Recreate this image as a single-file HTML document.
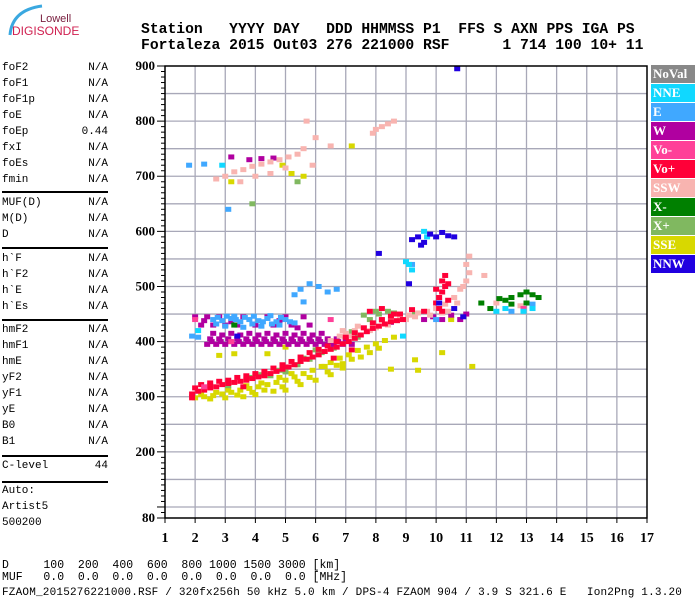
<!DOCTYPE html>
<html><head><meta charset="utf-8">
<style>
body{margin:0;background:#fff;}
#wrap{position:relative;width:700px;height:600px;overflow:hidden;background:#fff;font-family:"Liberation Mono",monospace;}
.t{position:absolute;white-space:pre;font-size:11px;color:#000;line-height:12px;}
.hd{position:absolute;white-space:pre;font-family:"Liberation Mono",monospace;font-weight:bold;font-size:14.7px;color:#000;line-height:15px;}
.hr{position:absolute;left:2px;width:106px;height:0;border-top:2px solid #000;}
.lg{position:absolute;left:651px;width:44px;height:18px;color:#fff;font-family:"Liberation Serif",serif;font-weight:bold;font-size:13px;line-height:18px;padding-left:2px;box-sizing:border-box;}
</style></head><body>
<div id="wrap">
<svg style="position:absolute;left:0;top:0" width="140" height="45">
<path d="M10 35 Q12 10 42 6" stroke="#3aa8e0" stroke-width="3" fill="none"/>
<text x="40" y="22" font-family="Liberation Sans,sans-serif" font-size="11" fill="#7a2040">Lowell</text>
<text x="12" y="35" font-family="Liberation Sans,sans-serif" font-size="12" fill="#d02050">DIGISONDE</text>
</svg>
<div class="hd" style="left:141px;top:23px">Station   YYYY DAY   DDD HHMMSS P1  FFS S AXN PPS IGA PS</div>
<div class="hd" style="left:141px;top:39px">Fortaleza 2015 Out03 276 221000 RSF      1 714 100 10+ 11</div>

<div id="panel"></div>

<div class="t" style="left:2px;top:560px;font-size:11.5px">D     100  200  400  600  800 1000 1500 3000 [km]</div>
<div class="t" style="left:2px;top:572px;font-size:11.5px">MUF   0.0  0.0  0.0  0.0  0.0  0.0  0.0  0.0 [MHz]</div>
<div class="t" style="left:2px;top:587px;letter-spacing:0.2px">FZAOM_2015276221000.RSF / 320fx256h 50 kHz 5.0 km / DPS-4 FZAOM 904 / 3.9 S 321.6 E   Ion2Png 1.3.20</div>

<div class="lg" style="top:65px;background:#888888">NoVal</div>
<div class="lg" style="top:84px;background:#10d8ff">NNE</div>
<div class="lg" style="top:103px;background:#40a8ff">E</div>
<div class="lg" style="top:122px;background:#b000a0">W</div>
<div class="lg" style="top:141px;background:#ff4098">Vo-</div>
<div class="lg" style="top:160px;background:#ff0038">Vo+</div>
<div class="lg" style="top:179px;background:#f8b4b0">SSW</div>
<div class="lg" style="top:198px;background:#008000">X-</div>
<div class="lg" style="top:217px;background:#80b860">X+</div>
<div class="lg" style="top:236px;background:#d8d800">SSE</div>
<div class="lg" style="top:255px;background:#2000e0">NNW</div>

<svg id="chart" style="position:absolute;left:0;top:0" width="700" height="600"></svg>
</div>
<script>
const xTicks=[1,2,3,4,5,6,7,8,9,10,11,12,13,14,15,16,17];
const yTickLabels=[900,800,700,600,500,400,300,200,80];
const seriesNames=["NNE","E","W","Vo-","Vo+","SSW","X-","X+","SSE","NNW"];
const seriesColors=["#10d8ff","#40a8ff","#b000a0","#ff4098","#ff0038","#f8b4b0","#008000","#80b860","#d8d800","#2000e0"];
const ptsSSE=[[2.0,298],[2.3,300],[2.6,302],[2.9,305],[3.2,308],[3.5,312],[3.8,315],[4.1,318],[4.4,322],[4.7,326],[5.0,330],[5.3,336],[5.6,342],[5.9,348],[6.2,355],[6.5,362],[6.8,370],[7.1,376],[7.4,384],[7.7,390],[8.0,396],[8.3,402],[8.6,408],[3.0,298],[4.0,304],[5.0,312],[6.0,330],[6.5,340],[2.8,375],[3.3,378],[4.4,378],[5.0,390],[8.5,350],[9.4,348],[9.3,367],[10.2,380],[4.9,720],[5.2,705],[5.6,700],[3.2,690],[7.2,755],[10.5,440],[11.2,355],[6.9,352],[6.3,355],[2.5,296],[3.6,300],[4.6,310],[5.5,322],
[2.2,304],[2.7,308],[3.4,303],[3.9,308],[4.3,312],[4.9,318],[5.4,328],[5.8,335],[6.4,345],[6.9,360],[7.2,368],[7.5,372],[3.1,312],[3.7,320],[4.2,325],[4.8,335],[5.2,342],[6.7,357],[7.8,380],[8.1,388]];
const ptsXplus=[[2.5,320],[3.1,320],[3.8,335],[4.5,338],[5.0,345],[5.4,358],[5.8,368],[6.2,380],[6.6,388],[7.0,402],[7.4,408],[7.8,440],[8.1,450],[8.4,455],[8.8,445],[9.3,450],[6.0,385],[3.9,650],[5.4,690],[1.9,300],[7.6,448],[8.0,455],[4.2,340],[4.8,348],[5.6,370],[6.4,395],[7.2,418],[8.6,452]];
const ptsW=[[2.4,395],[2.7,395],[3.0,395],[3.3,395],[3.6,395],[3.9,395],[4.2,395],[4.5,395],[4.8,395],[5.1,395],[5.4,395],[5.7,395],[6.0,395],[6.3,395],[6.6,395],[6.9,395],[7.2,395],
[2.5,405],[2.8,405],[3.1,405],[3.4,405],[3.7,405],[4.0,405],[4.3,405],[4.6,405],[4.9,405],[5.2,405],[5.5,405],[5.8,405],[6.1,405],[6.4,405],[6.7,405],[7.0,405],
[2.55,400],[2.85,400],[3.15,400],[3.45,400],[3.75,400],[4.05,400],[4.35,400],[4.65,400],[4.95,400],[5.25,400],[5.55,400],[5.85,400],[6.15,400],[6.45,400],[6.75,400],
[2.6,415],[3.2,415],[3.8,415],[4.4,415],[5.0,415],[5.6,415],[6.2,415],[2.9,412],[3.5,412],[4.1,412],[4.7,412],[5.3,412],[5.9,412],
[2.2,430],[2.6,430],[3.0,430],[3.4,430],[4.0,430],[4.6,430],[5.2,430],[5.8,430],
[2.0,445],[2.4,445],[2.8,445],[3.6,445],[4.4,445],[5.0,445],[5.6,445],[2.3,438],[3.2,436],[4.8,438],[5.4,425],
[9.6,440],[9.9,445],[10.2,440],[10.5,448],[10.8,440],[11.0,450],[8.5,435],[3.8,730],[4.2,732],[3.2,735],[4.6,733]];
const ptsE=[[2.6,440],[2.9,438],[3.2,442],[3.5,436],[3.8,440],[4.1,438],[4.4,442],[4.7,436],[5.0,440],[5.3,434],[3.0,428],[3.6,426],[4.2,428],[4.8,430],[1.9,410],[2.1,408],[5.3,485],[5.5,495],[5.8,505],[6.1,500],[6.4,490],[6.7,495],[3.1,640],[1.8,720],[2.3,722],[10.0,440],[9.2,540],[12.5,455],[13.2,468],[5.6,472],[3.3,446],[4.5,447],
[2.75,444],[3.05,446],[3.35,440],[3.65,444],[3.95,446],[4.25,436],[4.55,432],[4.85,444],[5.15,436],[2.7,432],[3.9,432]];
const ptsVoPlus=[[1.9,305],[2.1,310],[2.3,312],[2.5,316],[2.7,318],[2.9,322],[3.1,324],[3.3,326],[3.5,328],[3.7,330],[3.9,333],[4.1,336],[4.3,338],[4.5,342],[4.7,346],[4.9,350],[5.1,354],[5.3,358],[5.5,364],[5.7,368],[5.9,372],[6.1,376],[6.3,382],[6.5,386],[6.7,390],[6.9,396],[7.1,400],[7.3,406],[7.5,412],[7.7,418],[7.9,424],[8.1,428],[8.3,432],[8.5,436],[8.7,438],[8.9,440],
[2.2,322],[2.8,328],[3.4,335],[4.0,342],[4.6,352],[5.2,364],[5.8,380],[6.4,392],[7.0,408],[7.6,425],[8.2,440],[8.8,450],[9.6,455],
[2.0,316],[2.5,325],[3.1,330],[3.7,338],[4.3,346],[4.9,358],[5.5,372],[6.1,386],[6.7,400],[7.3,416],[7.9,434],[8.5,446],
[7.8,455],[8.2,460],[8.6,450],[9.2,458],
[10.0,470],[10.1,480],[10.2,490],[10.3,500],[10.2,510],[10.3,520],[10.1,460],[10.4,475],[10.2,455],[10.0,495],[10.4,505],
[6.6,370],[7.2,385],[3.6,318],[1.9,298]];
const ptsVoMinus=[[2.0,440],[3.2,400],[12.9,460],[6.5,440],[2.3,318]];
const ptsSSW=[[3.0,700],[3.3,708],[3.6,712],[3.9,718],[4.2,722],[4.5,726],[4.8,730],[5.1,735],[5.4,740],[3.5,690],[4.0,700],[4.5,705],[5.0,715],[5.6,750],[6.0,770],[6.5,755],[5.7,800],[8.0,785],[8.2,790],[8.4,795],[8.6,800],[7.9,778],[2.7,695],[5.9,720],
[6.8,410],[7.0,415],[7.3,420],[7.6,425],[7.9,432],[8.2,438],[8.5,442],[8.8,445],[9.1,448],[9.4,452],[9.7,455],[10.0,460],[10.3,468],[10.6,480],[10.8,495],[11.0,510],[11.1,525],[11.0,540],[11.1,555],[10.9,500],[6.5,402],[7.2,410],[8.0,425],[9.0,440],[10.4,455],[11.6,520],[12.0,470],[12.8,465],
[6.9,420],[7.4,428],[7.8,420],[8.4,430],[9.3,445],[9.8,448],[10.2,452],[10.7,470]];
const ptsNNW=[[9.2,585],[9.4,590],[9.6,580],[9.8,595],[10.0,590],[10.2,598],[10.4,592],[10.6,590],[9.5,575],[10.7,895],[9.1,505],[10.1,470],[10.6,460],[10.9,445],[3.4,410],[8.1,560]];
const ptsNNE=[[9.0,545],[9.1,540],[9.2,530],[9.6,600],[9.7,590],[8.9,410],[12.0,455],[12.3,460],[12.9,455],[13.2,460],[2.1,420],[2.9,720]];
const ptsXminus=[[12.3,475],[12.5,480],[12.5,468],[12.8,485],[13.0,470],[13.2,485],[13.4,480],[11.5,470],[11.8,460],[12.1,478],[13.0,490],[3.3,430]];

const panelRows=[["foF2","N/A",68],["foF1","N/A",84],["foF1p","N/A",100],["foE","N/A",116],["foEp","0.44",132],["fxI","N/A",148],["foEs","N/A",164],["fmin","N/A",180],
["MUF(D)","N/A",203],["M(D)","N/A",219],["D","N/A",235],
["h`F","N/A",259],["h`F2","N/A",275],["h`E","N/A",291],["h`Es","N/A",307],
["hmF2","N/A",330],["hmF1","N/A",346],["hmE","N/A",362],["yF2","N/A",378],["yF1","N/A",394],["yE","N/A",410],["B0","N/A",426],["B1","N/A",442],
["C-level","44",466],["Auto:","",491],["Artist5","",507],["500200","",523]];
const panelLines=[191,247,319,455,481];

const NS="http://www.w3.org/2000/svg";
const svg=document.getElementById('chart');
const X0=165,X1=647,Y0=518,Y1=66;
function xs(f){return X0+(f-1)*(X1-X0)/16;}
function ys(h){return Y0-(h-80)*(Y0-Y1)/820;}
function mk(tag,attrs){const e=document.createElementNS(NS,tag);for(const k in attrs)e.setAttribute(k,attrs[k]);svg.appendChild(e);return e;}

const wrap=document.getElementById('wrap');
panelRows.forEach(r=>{
  const a=document.createElement('div');a.className='t';a.style.left='2px';a.style.top=(r[2]-6)+'px';a.textContent=r[0];
  
  
  wrap.appendChild(a);
  if(r[1]){const b=document.createElement('div');b.className='t';b.style.right=(700-108)+'px';b.style.top=(r[2]-6)+'px';b.textContent=r[1];
  
  
  wrap.appendChild(b);}
});
panelLines.forEach(y=>{const d=document.createElement('div');d.className='hr';d.style.top=y+'px';
  
  
  wrap.appendChild(d);});

for(let h=100;h<900;h+=50){const l=mk('line',{x1:X0,x2:X1,y1:ys(h),y2:ys(h),stroke:'#a8a8b8','stroke-width':1.3});
  
  }
xTicks.forEach(f=>{if(f>1&&f<17){const l=mk('line',{x1:xs(f),x2:xs(f),y1:Y1,y2:Y0,stroke:'#a8a8b8','stroke-width':1.3});
  
  }});

const allSeries=[ptsNNE,ptsE,ptsW,ptsVoMinus,ptsVoPlus,ptsSSW,ptsXminus,ptsXplus,ptsSSE,ptsNNW];
const drawOrder=[8,7,2,1,5,4,3,6,0,9];
drawOrder.forEach(si=>{
  allSeries[si].forEach(p=>{
    const r=mk('rect',{x:xs(p[0])-3,y:ys(p[1])-2.5,width:6,height:5,fill:seriesColors[si]});
    
    
  });
});

const fr=mk('rect',{x:X0,y:Y1,width:X1-X0,height:Y0-Y1,fill:'none',stroke:'#000','stroke-width':1.5});


for(let h=80;h<=900;h+=10){const big=(h%100===0)||h===80;const l=mk('line',{x1:X0-(big?8:4),x2:X0,y1:ys(h),y2:ys(h),stroke:'#000','stroke-width':1});
  
  }
yTickLabels.forEach(v=>{const t=mk('text',{x:X0-10,y:ys(v)+4,'text-anchor':'end','font-family':'Liberation Serif,serif','font-weight':'bold','font-size':13});t.textContent=v;
  
  });
xTicks.forEach(f=>{const l=mk('line',{x1:xs(f),x2:xs(f),y1:Y0,y2:Y0+5,stroke:'#000','stroke-width':1});
  
  
  const t=mk('text',{x:xs(f),y:542,'text-anchor':'middle','font-family':'Liberation Serif,serif','font-weight':'bold','font-size':14});t.textContent=f;
  
  });
</script>
</body></html>
